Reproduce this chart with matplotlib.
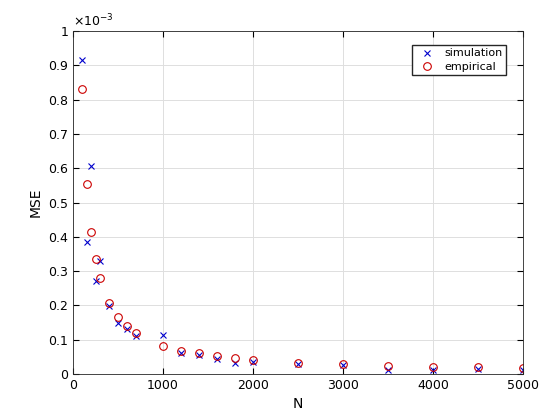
import matplotlib
matplotlib.use("Agg")
import matplotlib.pyplot as plt

N_sim = [100,150,200,250,300,400,500,600,700,1000,1200,1400,1600,1800,2000,2500,3000,3500,4000,4500,5000]
mse_sim = [0.915,0.385,0.605,0.27,0.328,0.198,0.148,0.13,0.11,0.113,0.062,0.055,0.045,0.032,0.035,0.028,0.025,0.012,0.013,0.015,0.012]
N_emp = [100,150,200,250,300,400,500,600,700,1000,1200,1400,1600,1800,2000,2500,3000,3500,4000,4500,5000]
mse_emp = [0.832,0.555,0.415,0.335,0.28,0.208,0.167,0.14,0.12,0.083,0.068,0.06,0.052,0.046,0.042,0.033,0.028,0.024,0.021,0.019,0.017]

plt.rcParams['font.family'] = ['DejaVu Sans']
fig = plt.figure(figsize=(5.6, 4.2), dpi=100)
ax = fig.add_axes([73/560, 46/420, 450/560, 343/420])
ax.plot(N_sim, mse_sim, 'x', color='#0000cc', ms=5, mew=0.8, label='simulation')
ax.plot(N_emp, mse_emp, 'o', mfc='none', mec='#cc0000', ms=5.5, mew=0.8, label='empirical')
ax.set_xlim(0, 5000)
ax.set_ylim(0, 1)
ax.set_xticks(range(0, 5001, 1000))
ax.set_yticks([i/10 for i in range(11)])
ax.set_yticklabels(['0'] + [f'{i/10:g}' for i in range(1, 11)])
ax.grid(True, color='#dedede', lw=0.7)
ax.set_axisbelow(True)
ax.tick_params(direction='in', labelsize=9, length=4, top=True, right=True)
for s in ax.spines.values():
    s.set_color('#262626'); s.set_linewidth(0.6)
ax.set_xlabel('N', fontsize=10)
ax.set_ylabel('MSE', fontsize=10)
ax.text(0, 1.005, r'$\times10^{-3}$', transform=ax.transAxes, fontsize=9, va='bottom')
ax.legend(loc='upper right', bbox_to_anchor=(0.975, 0.975), fontsize=8, frameon=True,
          fancybox=False, edgecolor='#262626', framealpha=1, borderpad=0.3,
          handletextpad=0.6, labelspacing=0.3)
fig.savefig('out.png', dpi=100)
